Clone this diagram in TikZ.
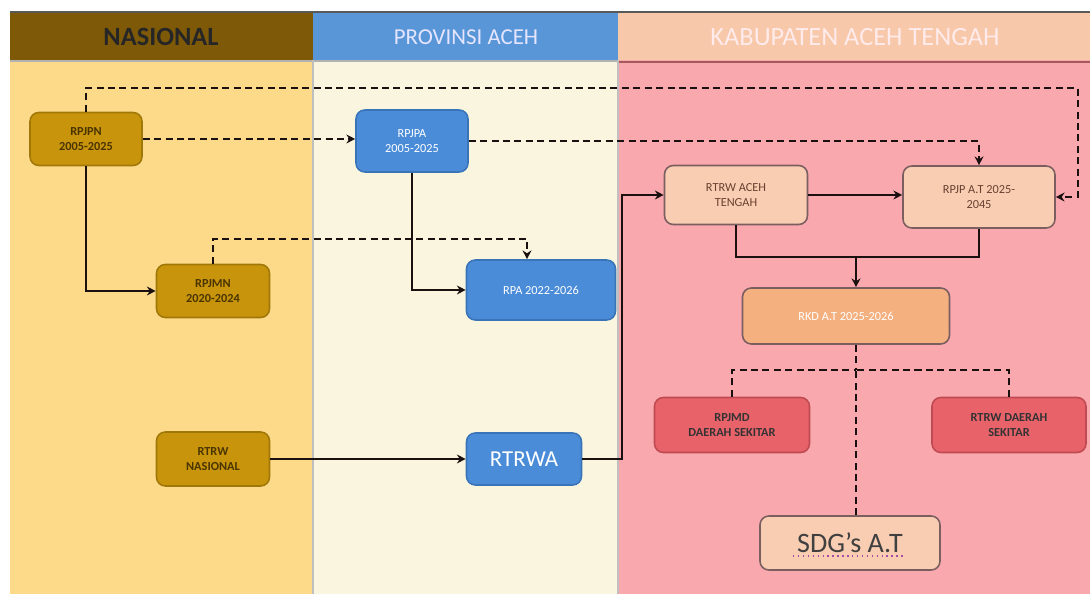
\documentclass[tikz,border=0pt]{standalone}
\usepackage{fontspec}
\setmainfont{Carlito}
\usetikzlibrary{arrows.meta,calc}
\definecolor{hdrNas}{HTML}{7E5A08}
\definecolor{hdrProv}{HTML}{5896D8}
\definecolor{hdrKab}{HTML}{F8C8AA}
\definecolor{bgNas}{HTML}{FDDA8A}
\definecolor{bgProv}{HTML}{F9F5DE}
\definecolor{bgKab}{HTML}{F9A8AE}
\definecolor{gold}{HTML}{C8940C}
\definecolor{goldB}{HTML}{A07808}
\definecolor{goldT}{HTML}{4A3500}
\definecolor{blueN}{HTML}{4A8CD8}
\definecolor{blueB}{HTML}{3A74B8}
\definecolor{peach}{HTML}{F8CDB2}
\definecolor{peachB}{HTML}{7A5E60}
\definecolor{peachT}{HTML}{6A4030}
\definecolor{orangeN}{HTML}{F5B080}
\definecolor{redN}{HTML}{E8626A}
\definecolor{redB}{HTML}{C04A52}
\definecolor{lineC}{HTML}{1A1010}
\tikzset{
  box/.style={rectangle, rounded corners=5pt, align=center, line width=0.9pt, inner sep=1pt},
  goldbox/.style={box, fill=gold, draw=goldB, text=goldT, font=\fontsize{7}{8.5}\selectfont\bfseries},
  bluebox/.style={box, fill=blueN, draw=blueB, text=white, font=\fontsize{7}{8.5}\selectfont},
  peachbox/.style={box, fill=peach, draw=peachB, text=peachT, font=\fontsize{7}{8.5}\selectfont},
  redbox/.style={box, fill=redN, draw=redB, text=black!80, font=\fontsize{7}{8.5}\selectfont\bfseries},
  conn/.style={draw=lineC, line width=1.3pt, -{Stealth[length=5pt,width=5pt]}},
  dconn/.style={conn, dash pattern=on 4pt off 2.5pt},
  dline/.style={draw=lineC, line width=1.3pt, dash pattern=on 4pt off 2.5pt},
  sline/.style={draw=lineC, line width=1.3pt},
  hdr/.style={font=\fontsize{13}{14}\selectfont}
}
\begin{document}
\begin{tikzpicture}[x=0.02cm,y=-0.02cm]
\useasboundingbox (0,0) rectangle (1090,594);
\fill[white] (0,0) rectangle (1090,594);
% panels
\fill[bgNas] (10,60) rectangle (313,594);
\fill[bgProv] (313,60) rectangle (618,594);
\fill[bgKab] (618,60) rectangle (1090,594);
\fill[hdrNas] (10,12) rectangle (313,60);
\fill[hdrProv] (313,12) rectangle (618,60);
\fill[hdrKab] (618,12) rectangle (1090,60);
\draw[gray!70!black, line width=1.2pt] (10,12) -- (1090,12);
\draw[gray!60, line width=1pt] (10,61) -- (618,61);
\draw[gray!70!red, line width=1.6pt] (618,62) -- (1090,62);
\draw[gray!50, line width=1pt] (313,60) -- (313,594);
\draw[gray!50, line width=1pt] (618,60) -- (618,594);
\node[text=black!85, font=\fontsize{15}{16}\selectfont\bfseries] (hnas) at (161,37) {NASIONAL};
\node[hdr, text=white!90!blue] (hprov) at (466,37) {PROVINSI ACEH};
\node[text=white!92!red, font=\fontsize{15}{16}\selectfont] (hkab) at (855,37) {KABUPATEN ACEH TENGAH};
% nodes
\node[goldbox, minimum width=2.24cm, minimum height=1.06cm] (rpjpn) at (86,139) {RPJPN\\2005-2025};
\node[goldbox, minimum width=2.26cm, minimum height=1.06cm] (rpjmn) at (213,291) {RPJMN\\2020-2024};
\node[goldbox, minimum width=2.26cm, minimum height=1.08cm] (rtrwn) at (213,459) {RTRW\\NASIONAL};
\node[bluebox, minimum width=2.24cm, minimum height=1.24cm] (rpjpa) at (412,141) {RPJPA\\2005-2025};
\node[bluebox, minimum width=2.98cm, minimum height=1.2cm] (rpa) at (541,290) {RPA 2022-2026};
\node[bluebox, minimum width=2.3cm, minimum height=1.04cm, font=\fontsize{13}{14}\selectfont] (rtrwa) at (524,459) {RTRWA};
\node[peachbox, minimum width=2.86cm, minimum height=1.18cm] (rtrwat) at (736,195) {RTRW ACEH\\TENGAH};
\node[peachbox, minimum width=3.04cm, minimum height=1.24cm] (rpjpat) at (979,197) {RPJP A.T 2025-\\2045};
\node[box, fill=orangeN, draw=peachB, text=white, font=\fontsize{7}{8.5}\selectfont, minimum width=4.14cm, minimum height=1.12cm] (rkd) at (846,316) {RKD A.T 2025-2026};
\node[redbox, minimum width=3.1cm, minimum height=1.1cm] (rpjmd) at (732,425) {RPJMD\\DAERAH SEKITAR};
\node[redbox, minimum width=3.08cm, minimum height=1.1cm] (rtrwd) at (1009,425) {RTRW DAERAH\\SEKITAR};
\node[box, fill=peach, draw=peachB, text=black!75, font=\fontsize{16}{18}\selectfont, minimum width=3.6cm, minimum height=1.08cm] (sdg) at (850,543) {SDG's A.T};
\draw[violet!70, line width=0.8pt, dotted] (793,556) -- (905,556);
% coordinates
\coordinate (c1) at (1078,88);
\coordinate (j1) at (856,257);
\coordinate (j2) at (856,370);
% connectors
\draw[dconn] (rpjpn.north) |- (c1) |- (rpjpat.east);
\draw[dconn] (rpjpn.east) -- (rpjpn.east -| rpjpa.west);
\draw[dconn] (rpjpa.east) -| (rpjpat.north);
\draw[conn] (rpjpn.south) |- (rpjmn.west);
\draw[dconn] (rpjmn.north) -- ++(0,-25) -| ($(rpa.north)+(-14,0)$);
\draw[conn] (rpjpa.south) |- (rpa.west);
\draw[conn] (rtrwn.east) -- (rtrwa.west);
\draw[conn] (rtrwa.east) -- ++(40,0) |- (rtrwat.west);
\draw[conn] (rtrwat.east) -- (rtrwat.east -| rpjpat.west);
\draw[sline] (rtrwat.south) |- (j1);
\draw[sline] (rpjpat.south) |- (j1);
\draw[conn] (j1) -- (j1 |- rkd.north);
\draw[dline] (j2 |- rkd.south) -- (j2);
\draw[dline] (rpjmd.north) |- (j2);
\draw[dline] (rtrwd.north) |- (j2);
\draw[dline] (sdg.north -| j2) -- (j2);
\end{tikzpicture}
\end{document}
